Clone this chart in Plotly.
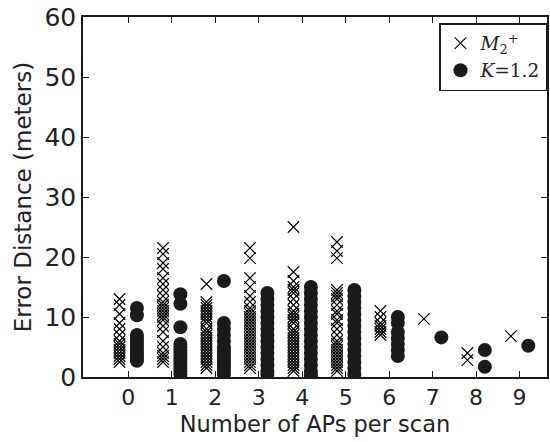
import plotly.graph_objects as go

# Number of APs per scan (categories)
ap_counts = [0, 1, 2, 3, 4, 5, 6, 7, 8, 9]
tick_labels = ["0", "1", "2", "3", "4", "5", "6", "7", "8", "9"]

# Error distance (meters) for M2+ per AP count
m2_0 = [13, 12, 10.5, 9, 8, 7, 6, 5.5, 5, 4.5, 4, 3.5, 3, 2.5]
m2_1 = [21.5, 20.5, 19, 18, 16.5, 15.5, 14.5, 13.5, 12.5, 12, 11.5, 11, 10.5, 10, 9.5, 8.5, 7.5, 6, 5, 4, 3.5, 3, 2.5]
m2_2 = [15.5, 12.5, 12, 11.5, 11, 10.5, 10, 9.5, 9, 8, 7.5, 7, 6.5, 6, 5.5, 5, 4.5, 4, 3.5, 3, 2.5, 2, 1.5]
m2_3 = [21.5, 19.8, 16.5, 15, 13.5, 12.5, 11.5, 11, 10.5, 10, 9.5, 9, 8.5, 8, 7.5, 7, 6.5, 6, 5.5, 5, 4.5, 4, 3.5, 3, 2.5, 2, 1.5]
m2_4 = [25, 17.5, 16, 15, 14.5, 14, 13, 12, 11, 10.5, 10, 9.5, 9, 8, 7.5, 7, 6.5, 6, 5.5, 5, 4.5, 4, 3.5, 3, 2.5, 2, 1.5, 1]
m2_5 = [22.5, 21, 19.8, 14.5, 14, 13.5, 13, 12, 11, 10.5, 9.5, 9, 8, 7, 6, 5.5, 5, 4.5, 4, 3.5, 3, 2.5, 2, 1.5, 1]
m2_6 = [11, 10, 9, 8.5, 8, 7.5, 7]
m2_7 = [9.7]
m2_8 = [4, 2.8]
m2_9 = [6.8]

# Error distance (meters) for K=1.2 per AP count
k_0 = [11.5, 10.3, 7, 6.5, 6, 5.5, 5, 4.5, 4, 3.5, 3, 2.7]
k_1 = [13.8, 12.2, 8.3, 5.5, 5, 4.5, 4, 3.5, 3, 2.5, 2, 1.5, 1, 0.5]
k_2 = [16, 9, 8, 7, 6, 5, 4.5, 4, 3.5, 3, 2.5, 2, 1.5, 1, 0.5]
k_3 = [14, 13, 12, 11, 10, 9, 8, 7, 6, 5, 4, 3, 2, 1, 0.5]
k_4 = [15, 14, 13, 12, 11, 10, 9, 8, 7, 6, 5, 4, 3, 2, 1, 0.3]
k_5 = [14.5, 13.5, 12.5, 11.5, 10.5, 9.5, 8.5, 7.5, 6.5, 5.5, 4.5, 3.5, 2.5, 1.5, 0.5]
k_6 = [10, 9, 7.5, 6.5, 5.5, 4.5, 3.5]
k_7 = [6.6]
k_8 = [4.5, 1.7]
k_9 = [5.2]

m2_groups = [m2_0, m2_1, m2_2, m2_3, m2_4, m2_5, m2_6, m2_7, m2_8, m2_9]
k_groups = [k_0, k_1, k_2, k_3, k_4, k_5, k_6, k_7, k_8, k_9]

OFFSET = 0.2

m2_x, m2_y, k_x, k_y = [], [], [], []
for ap, vals in zip(ap_counts, m2_groups):
    m2_x += [ap - OFFSET] * len(vals)
    m2_y += vals
for ap, vals in zip(ap_counts, k_groups):
    k_x += [ap + OFFSET] * len(vals)
    k_y += vals

fig = go.Figure()
fig.add_trace(go.Scatter(
    x=m2_x, y=m2_y, mode="markers",
    name="<i>M</i><sub>2</sub><sup>+</sup>",
    marker=dict(symbol="x-thin-open", size=11.5, color="black",
                line=dict(color="black", width=1.1)),
))
fig.add_trace(go.Scatter(
    x=k_x, y=k_y, mode="markers",
    name="<i>K</i>=1.2",
    marker=dict(symbol="circle", size=14, color="#1a1a1a", line=dict(width=0)),
))

axis_common = dict(
    showline=True, linecolor="#1a1a1a", linewidth=1.6, mirror="ticks",
    ticks="inside", ticklen=6, tickwidth=1.2, tickcolor="#1a1a1a",
    showgrid=False, zeroline=False, automargin=False,
)

fig.update_layout(
    width=550, height=442,
    margin=dict(l=83, r=3, t=17, b=65),
    paper_bgcolor="white", plot_bgcolor="white",
    font=dict(family="DejaVu Sans", color="#222222"),
    xaxis=dict(
        range=[-1.04, 9.63], tickvals=ap_counts, ticktext=tick_labels,
        tickfont=dict(size=22),
        title=dict(text="Number of APs per scan", font=dict(size=22.5), standoff=7),
        **axis_common,
    ),
    yaxis=dict(
        range=[0, 60], tickvals=[0, 10, 20, 30, 40, 50, 60],
        tickfont=dict(size=25),
        title=dict(text="Error Distance (meters)", font=dict(size=23), standoff=6),
        **axis_common,
    ),
    legend=dict(
        x=1.0, y=0.983, xanchor="right", yanchor="top",
        bordercolor="#1a1a1a", borderwidth=1.5, bgcolor="white",
        font=dict(family="DejaVu Serif", size=18.5, color="#222222"),
        tracegroupgap=0, itemwidth=30,
    ),
    showlegend=True,
)

fig.write_html(
    "out.html",
    config={"displayModeBar": False},
    post_script="document.body.style.margin='0';document.body.style.overflow='hidden';",
)
